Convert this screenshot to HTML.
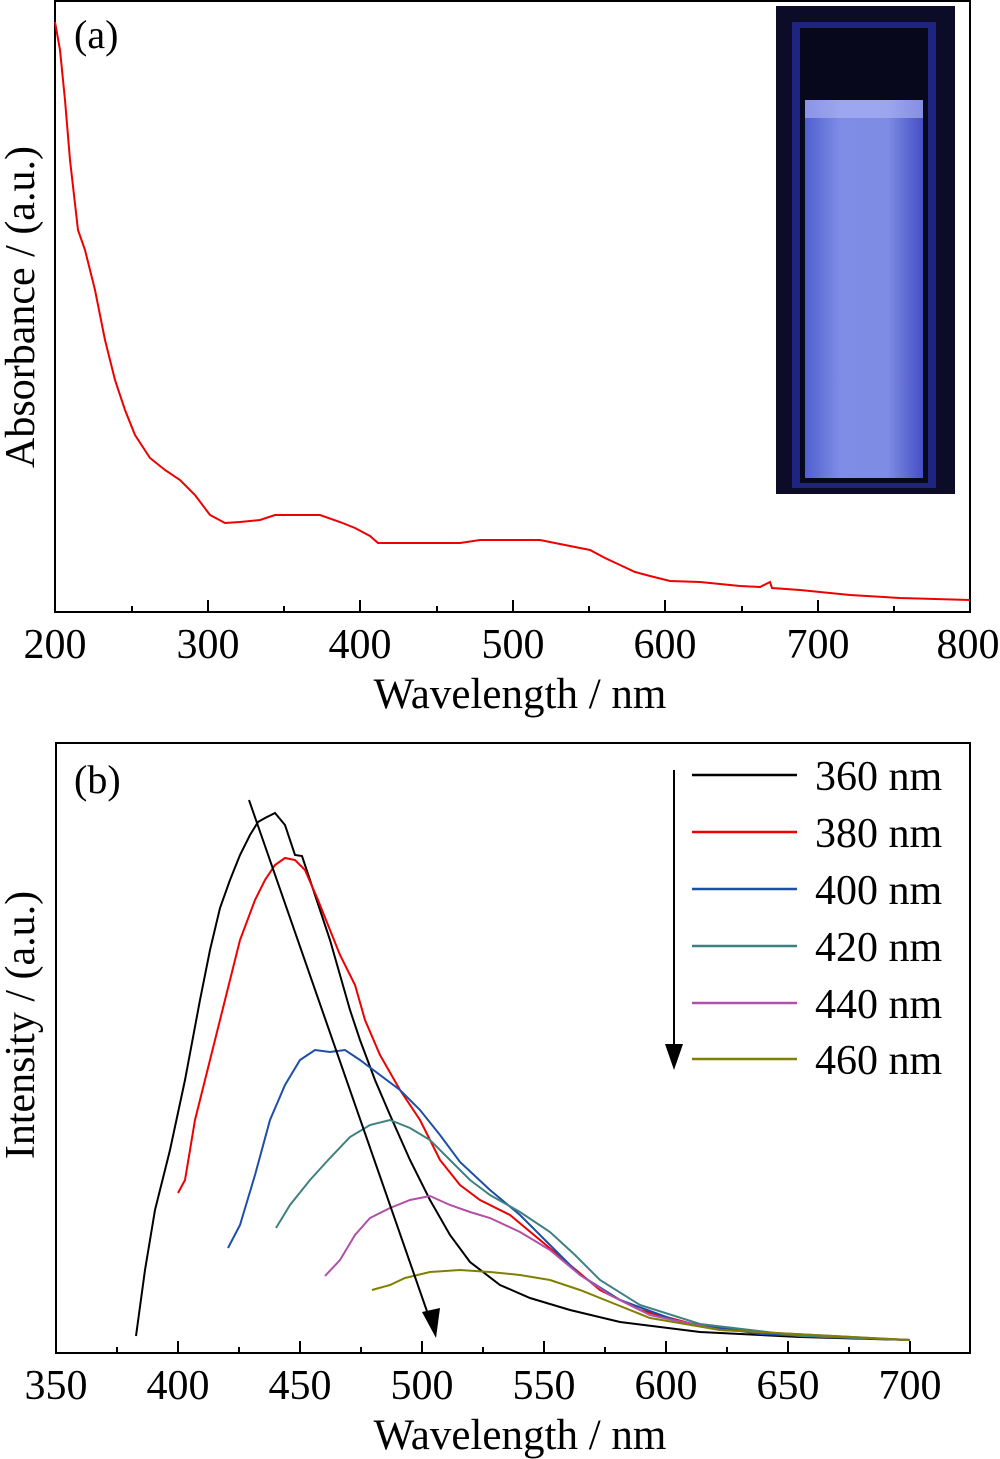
<!DOCTYPE html>
<html><head><meta charset="utf-8"><style>body{margin:0;background:#fff}svg{display:block}text{font-family:"Liberation Serif",serif;fill:#000}</style></head><body>
<svg width="1000" height="1459" viewBox="0 0 1000 1459">
<defs>
<linearGradient id="g1" x1="0" x2="1"><stop offset="0" stop-color="#5060d0"/><stop offset="0.3" stop-color="#7f8de6"/><stop offset="0.7" stop-color="#7f8ce4"/><stop offset="1" stop-color="#4450c4"/></linearGradient>
</defs>
<rect x="776" y="6" width="179" height="488" fill="#0c0c28"/>
<rect x="792" y="22" width="144" height="466" fill="#1e2480"/>
<rect x="800" y="28" width="128" height="455" fill="#08081c"/>
<rect x="805" y="100" width="118" height="378" fill="url(#g1)"/>
<rect x="805" y="100" width="118" height="18" fill="#b0b8f4" opacity="0.6"/>
<rect x="55" y="1" width="915" height="611" fill="none" stroke="#000" stroke-width="2"/>
<g stroke="#000" stroke-width="2">
<line x1="208" y1="612" x2="208" y2="600"/><line x1="360" y1="612" x2="360" y2="600"/><line x1="513" y1="612" x2="513" y2="600"/><line x1="665" y1="612" x2="665" y2="600"/><line x1="818" y1="612" x2="818" y2="600"/>
<line x1="132" y1="612" x2="132" y2="606"/><line x1="284" y1="612" x2="284" y2="606"/><line x1="437" y1="612" x2="437" y2="606"/><line x1="589" y1="612" x2="589" y2="606"/><line x1="742" y1="612" x2="742" y2="606"/><line x1="894" y1="612" x2="894" y2="606"/>
</g>
<g font-size="42" text-anchor="middle">
<text x="55" y="658">200</text><text x="208" y="658">300</text><text x="360" y="658">400</text><text x="513" y="658">500</text><text x="665" y="658">600</text><text x="818" y="658">700</text><text x="968" y="658">800</text>
</g>
<text x="520" y="708" font-size="43" text-anchor="middle">Wavelength / nm</text>
<text transform="translate(34,307) rotate(-90)" font-size="42" text-anchor="middle">Absorbance / (a.u.)</text>
<text x="74" y="48" font-size="40">(a)</text>
<polyline fill="none" stroke="#e00" stroke-width="2" points="55,22 60,50 65,100 70,160 78,230 85,250 95,290 105,340 115,380 125,410 135,435 150,458 165,470 180,480 195,495 210,515 225,523 240,522 260,520 275,515 300,515 320,515 340,522 355,528 370,536 378,543 400,543 460,543 480,540 540,540 565,545 590,550 605,558 620,565 635,572 650,576 670,581 700,582 740,586 760,587 770,582 772,588 800,590 850,595 900,598 970,600"/>
<rect x="56" y="743" width="914" height="610" fill="none" stroke="#000" stroke-width="2"/>
<g stroke="#000" stroke-width="2">
<line x1="178" y1="1353" x2="178" y2="1341"/><line x1="300" y1="1353" x2="300" y2="1341"/><line x1="422" y1="1353" x2="422" y2="1341"/><line x1="544" y1="1353" x2="544" y2="1341"/><line x1="666" y1="1353" x2="666" y2="1341"/><line x1="788" y1="1353" x2="788" y2="1341"/><line x1="910" y1="1353" x2="910" y2="1341"/>
<line x1="117" y1="1353" x2="117" y2="1347"/><line x1="239" y1="1353" x2="239" y2="1347"/><line x1="361" y1="1353" x2="361" y2="1347"/><line x1="483" y1="1353" x2="483" y2="1347"/><line x1="605" y1="1353" x2="605" y2="1347"/><line x1="727" y1="1353" x2="727" y2="1347"/><line x1="849" y1="1353" x2="849" y2="1347"/>
</g>
<g font-size="42" text-anchor="middle">
<text x="56" y="1399">350</text><text x="178" y="1399">400</text><text x="300" y="1399">450</text><text x="422" y="1399">500</text><text x="544" y="1399">550</text><text x="666" y="1399">600</text><text x="788" y="1399">650</text><text x="910" y="1399">700</text>
</g>
<text x="520" y="1449" font-size="43" text-anchor="middle">Wavelength / nm</text>
<text transform="translate(34,1025) rotate(-90)" font-size="42" text-anchor="middle">Intensity / (a.u.)</text>
<text x="74" y="793" font-size="40">(b)</text>
<g fill="none" stroke-width="2">
<polyline stroke="#000" points="136,1336 145,1270 155,1210 170,1150 185,1080 200,1000 210,950 220,908 230,880 240,855 250,835 258,822 265,818 275,813 285,825 295,855 302,856 310,880 320,910 330,940 340,975 350,1010 360,1040 375,1080 390,1115 410,1160 430,1200 450,1235 470,1262 500,1285 530,1298 570,1310 620,1322 700,1332 800,1337 910,1340"/>
<polyline stroke="#e00" points="178,1193 185,1180 195,1120 210,1060 225,1000 240,940 255,900 265,880 275,865 285,858 295,860 305,870 318,900 330,930 340,955 355,985 365,1020 380,1055 400,1090 420,1120 440,1160 460,1185 480,1200 510,1215 540,1240 570,1265 600,1290 640,1310 700,1326 800,1336 910,1340"/>
<polyline stroke="#1f4ea8" points="228,1248 240,1225 255,1175 270,1120 285,1085 300,1060 315,1050 330,1052 345,1050 360,1060 380,1075 400,1090 420,1110 440,1135 460,1162 490,1190 520,1215 550,1245 580,1275 620,1300 680,1322 760,1334 910,1340"/>
<polyline stroke="#3f8080" points="276,1228 290,1205 310,1180 330,1158 350,1137 370,1125 390,1120 410,1128 430,1140 450,1160 470,1180 490,1195 520,1212 550,1232 575,1255 600,1280 640,1305 700,1324 800,1336 910,1340"/>
<polyline stroke="#b050a8" points="325,1276 340,1260 355,1235 370,1218 390,1208 410,1200 430,1196 450,1205 470,1212 490,1218 520,1232 550,1250 580,1275 610,1295 650,1315 720,1330 910,1340"/>
<polyline stroke="#808000" points="372,1290 390,1285 405,1278 430,1272 460,1270 490,1272 520,1275 550,1280 580,1290 610,1302 650,1318 720,1330 910,1340"/>
</g>
<line x1="249" y1="800" x2="430" y2="1320" stroke="#000" stroke-width="2"/>
<polygon points="436,1338 422,1312 440,1308" fill="#000"/>
<line x1="674" y1="770" x2="674" y2="1050" stroke="#000" stroke-width="2"/>
<polygon points="674,1070 665,1044 683,1044" fill="#000"/>
<g stroke-width="2.5">
<line x1="692" y1="775" x2="797" y2="775" stroke="#000"/>
<line x1="692" y1="832" x2="797" y2="832" stroke="#e00"/>
<line x1="692" y1="889" x2="797" y2="889" stroke="#1f4ea8"/>
<line x1="692" y1="946" x2="797" y2="946" stroke="#3f8080"/>
<line x1="692" y1="1003" x2="797" y2="1003" stroke="#b050a8"/>
<line x1="692" y1="1059" x2="797" y2="1059" stroke="#808000"/>
</g>
<g font-size="42">
<text x="815" y="790">360 nm</text><text x="815" y="847">380 nm</text><text x="815" y="904">400 nm</text><text x="815" y="961">420 nm</text><text x="815" y="1018">440 nm</text><text x="815" y="1074">460 nm</text>
</g>
</svg>
</body></html>
